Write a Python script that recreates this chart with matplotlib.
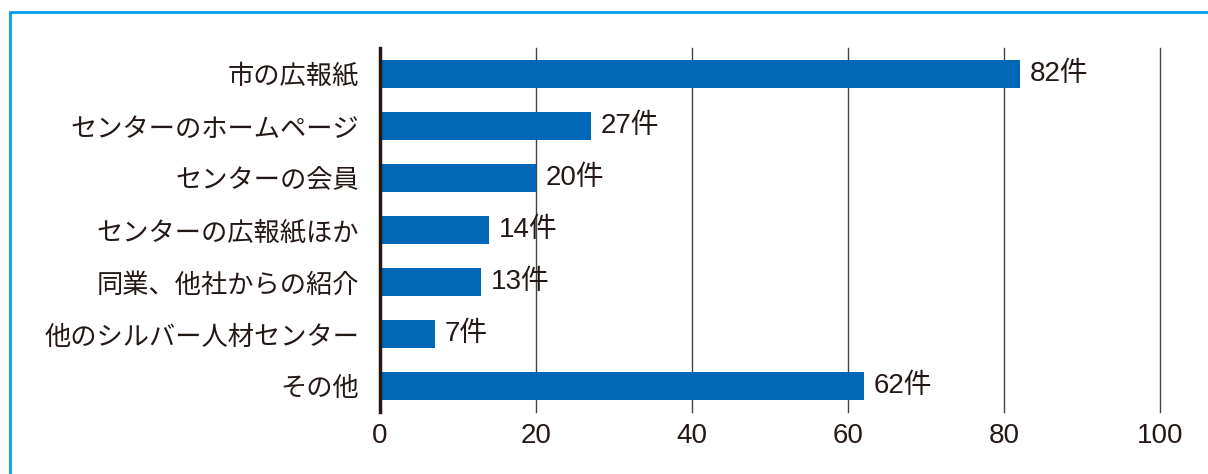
import matplotlib
matplotlib.use("Agg")
import matplotlib.pyplot as plt
from matplotlib.patches import Rectangle

plt.rcParams['font.family'] = ['Noto Sans CJK JP', 'DejaVu Sans']

categories = ["市の広報紙", "センターのホームページ", "センターの会員", "センターの広報紙ほか",
              "同業、他社からの紹介", "他のシルバー人材センター", "その他"]
counts = [82, 27, 20, 14, 13, 7, 62]
xticks = [0, 20, 40, 60, 80, 100]

text_color = "#231815"
bar_color = "#0068b7"
num_font = ['Liberation Sans', 'Noto Sans CJK JP']

fig = plt.figure(figsize=(12.08, 4.74), dpi=100)
ax = fig.add_axes([380 / 1208, 1 - 412 / 474, 780 / 1208, 364 / 474])

y = list(range(len(categories)))
ax.barh(y, counts, height=0.53, color=bar_color, zorder=3)
for yi, v in zip(y, counts):
    ax.annotate(f"{v}件", (v, yi), xytext=(7, 0), textcoords="offset points",
                va="center", ha="left", fontsize=20, color=text_color,
                family=num_font, zorder=4)

ax.set_xlim(0, 100)
ax.set_ylim(6.5, -0.5)
ax.set_yticks(y)
ax.set_yticklabels(categories, fontsize=18.9, color=text_color)
ax.set_xticks(xticks)
ax.set_xticklabels([str(t) for t in xticks], fontsize=20, color=text_color, family=num_font)
ax.tick_params(axis="both", length=0)
ax.tick_params(axis="y", pad=15)
ax.tick_params(axis="x", pad=8)
for x in xticks[1:]:
    ax.axvline(x, color="#444444", lw=1, zorder=1, clip_on=False)
for s in ["top", "right", "bottom"]:
    ax.spines[s].set_visible(False)
ax.spines["left"].set_linewidth(2.5)
ax.spines["left"].set_color(text_color)
ax.spines["left"].set_zorder(5)

frame = Rectangle((10 / 1208, -0.1), 1.2, 1 - 12 / 474 + 0.1, transform=fig.transFigure,
                  fill=False, edgecolor="#00a0e9", lw=2, clip_on=False)
fig.patches.append(frame)

fig.savefig("out.png", dpi=100)
